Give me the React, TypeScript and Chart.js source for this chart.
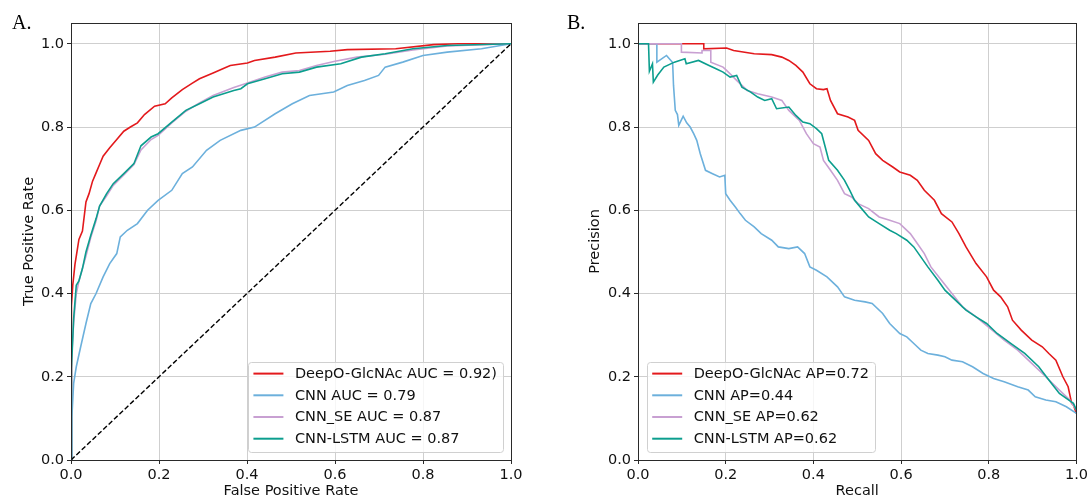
import React, { useEffect, useRef } from 'react';
import { Chart, registerables } from 'chart.js';

Chart.register(...registerables);

// ---------- text ----------
const panelTags = ['A.', 'B.'];
const rocAxisTitles = ['False Positive Rate', 'True Positive Rate'];
const prAxisTitles = ['Recall', 'Precision'];
const rocLegendLabels = ['DeepO-GlcNAc AUC = 0.92)', 'CNN AUC = 0.79', 'CNN_SE AUC = 0.87', 'CNN-LSTM AUC = 0.87'];
const prLegendLabels = ['DeepO-GlcNAc AP=0.72', 'CNN AP=0.44', 'CNN_SE AP=0.62', 'CNN-LSTM AP=0.62'];
const seriesColors = ['#e3191c', '#6cb0dc', '#c8a0d2', '#0c9e8e'];
const tickStep = 0.2;

// ---------- ROC (panel A) ----------
const rocDeepFpr = [0, 0, 0.002, 0.004, 0.006, 0.009, 0.012, 0.018, 0.026, 0.034, 0.041, 0.049, 0.057, 0.065, 0.073, 0.088, 0.104, 0.120, 0.135, 0.151, 0.167, 0.190, 0.214, 0.229, 0.253, 0.275, 0.292, 0.323, 0.345, 0.362, 0.401, 0.417, 0.464, 0.511, 0.589, 0.628, 0.738, 0.824, 0.880, 1.0];
const rocDeepTpr = [0, 0.28, 0.37, 0.42, 0.44, 0.47, 0.49, 0.53, 0.55, 0.62, 0.64, 0.67, 0.69, 0.71, 0.73, 0.75, 0.77, 0.79, 0.80, 0.81, 0.83, 0.85, 0.856, 0.87, 0.89, 0.905, 0.916, 0.93, 0.94, 0.948, 0.954, 0.96, 0.968, 0.978, 0.982, 0.986, 0.988, 0.998, 1.0, 1.0];

const rocCnnFpr = [0, 0.002, 0.006, 0.012, 0.022, 0.034, 0.045, 0.057, 0.073, 0.088, 0.104, 0.112, 0.128, 0.151, 0.174, 0.198, 0.229, 0.253, 0.276, 0.308, 0.339, 0.386, 0.417, 0.464, 0.503, 0.542, 0.597, 0.628, 0.667, 0.699, 0.714, 0.754, 0.800, 0.855, 0.933, 1.0];
const rocCnnTpr = [0, 0.104, 0.184, 0.224, 0.272, 0.328, 0.376, 0.40, 0.44, 0.472, 0.496, 0.536, 0.552, 0.568, 0.60, 0.624, 0.648, 0.688, 0.704, 0.744, 0.768, 0.792, 0.80, 0.832, 0.856, 0.876, 0.884, 0.90, 0.912, 0.924, 0.944, 0.956, 0.972, 0.98, 0.988, 1.0];

const rocSeFpr = [0, 0, 0.002, 0.006, 0.012, 0.018, 0.026, 0.034, 0.045, 0.057, 0.065, 0.081, 0.096, 0.120, 0.143, 0.159, 0.182, 0.198, 0.229, 0.261, 0.292, 0.323, 0.370, 0.401, 0.441, 0.480, 0.519, 0.558, 0.600, 0.650, 0.714, 0.777, 0.855, 1.0];
const rocSeTpr = [0, 0.16, 0.24, 0.33, 0.40, 0.43, 0.46, 0.49, 0.535, 0.575, 0.61, 0.635, 0.66, 0.685, 0.71, 0.745, 0.77, 0.78, 0.81, 0.838, 0.858, 0.876, 0.895, 0.906, 0.92, 0.932, 0.936, 0.948, 0.958, 0.968, 0.975, 0.985, 0.995, 1.0];

const rocLstmFpr = [0, 0, 0.002, 0.006, 0.012, 0.018, 0.026, 0.034, 0.045, 0.057, 0.065, 0.081, 0.096, 0.120, 0.143, 0.159, 0.182, 0.198, 0.229, 0.261, 0.292, 0.323, 0.370, 0.386, 0.401, 0.441, 0.480, 0.519, 0.558, 0.613, 0.660, 0.714, 0.777, 0.855, 1.0];
const rocLstmTpr = [0, 0.15, 0.22, 0.34, 0.42, 0.43, 0.46, 0.50, 0.54, 0.58, 0.61, 0.64, 0.664, 0.688, 0.712, 0.755, 0.776, 0.784, 0.812, 0.84, 0.856, 0.872, 0.888, 0.892, 0.904, 0.916, 0.928, 0.932, 0.944, 0.952, 0.968, 0.976, 0.988, 0.996, 1.0];

const chanceX = [0, 1];
const chanceY = [0, 1];

// ---------- Precision-Recall (panel B) ----------
const prDeepRecall = [0, 0.150, 0.150, 0.202, 0.218, 0.265, 0.305, 0.328, 0.344, 0.360, 0.376, 0.392, 0.407, 0.423, 0.431, 0.439, 0.455, 0.479, 0.494, 0.502, 0.526, 0.542, 0.558, 0.581, 0.597, 0.621, 0.637, 0.653, 0.676, 0.692, 0.716, 0.732, 0.748, 0.771, 0.795, 0.811, 0.827, 0.843, 0.854, 0.874, 0.898, 0.922, 0.937, 0.953, 0.969, 0.981, 0.989, 0.993, 1.0];
const prDeepPrecision = [1.0, 1.0, 0.988, 0.99, 0.984, 0.976, 0.974, 0.968, 0.96, 0.948, 0.932, 0.904, 0.892, 0.89, 0.892, 0.864, 0.832, 0.824, 0.816, 0.792, 0.768, 0.736, 0.72, 0.704, 0.692, 0.684, 0.672, 0.648, 0.624, 0.592, 0.572, 0.544, 0.512, 0.472, 0.44, 0.408, 0.392, 0.368, 0.336, 0.312, 0.288, 0.272, 0.256, 0.24, 0.20, 0.176, 0.136, 0.132, 0.112];

const prCnnRecall = [0, 0.043, 0.043, 0.065, 0.079, 0.081, 0.085, 0.090, 0.093, 0.103, 0.111, 0.119, 0.127, 0.134, 0.142, 0.154, 0.170, 0.186, 0.198, 0.200, 0.210, 0.222, 0.233, 0.245, 0.265, 0.281, 0.305, 0.320, 0.344, 0.364, 0.380, 0.392, 0.407, 0.431, 0.455, 0.471, 0.494, 0.518, 0.534, 0.558, 0.574, 0.597, 0.613, 0.629, 0.645, 0.661, 0.684, 0.700, 0.716, 0.740, 0.763, 0.787, 0.811, 0.835, 0.866, 0.890, 0.906, 0.930, 0.953, 0.977, 1.0];
const prCnnPrecision = [1.0, 1.0, 0.956, 0.972, 0.955, 0.90, 0.84, 0.83, 0.804, 0.826, 0.81, 0.80, 0.784, 0.768, 0.736, 0.696, 0.688, 0.68, 0.684, 0.64, 0.624, 0.608, 0.592, 0.576, 0.56, 0.544, 0.528, 0.512, 0.508, 0.512, 0.496, 0.464, 0.456, 0.44, 0.416, 0.392, 0.384, 0.38, 0.376, 0.352, 0.328, 0.304, 0.296, 0.28, 0.264, 0.256, 0.252, 0.248, 0.24, 0.236, 0.224, 0.208, 0.196, 0.188, 0.176, 0.168, 0.152, 0.144, 0.14, 0.128, 0.112];

const prSeRecall = [0, 0.099, 0.099, 0.146, 0.146, 0.166, 0.166, 0.194, 0.202, 0.225, 0.249, 0.273, 0.305, 0.328, 0.344, 0.368, 0.384, 0.400, 0.415, 0.423, 0.439, 0.455, 0.471, 0.487, 0.502, 0.526, 0.550, 0.574, 0.597, 0.621, 0.637, 0.653, 0.668, 0.692, 0.716, 0.740, 0.771, 0.803, 0.835, 0.866, 0.898, 0.930, 0.961, 0.985, 1.0];
const prSePrecision = [1.0, 1.0, 0.98, 0.978, 0.984, 0.984, 0.956, 0.944, 0.936, 0.912, 0.888, 0.88, 0.872, 0.864, 0.84, 0.816, 0.784, 0.76, 0.752, 0.72, 0.696, 0.672, 0.64, 0.632, 0.616, 0.604, 0.584, 0.576, 0.568, 0.544, 0.52, 0.496, 0.464, 0.432, 0.40, 0.368, 0.344, 0.316, 0.288, 0.264, 0.232, 0.20, 0.168, 0.144, 0.12];

const prLstmRecall = [0, 0.024, 0.026, 0.033, 0.035, 0.045, 0.059, 0.083, 0.107, 0.110, 0.138, 0.162, 0.178, 0.194, 0.210, 0.225, 0.237, 0.257, 0.273, 0.289, 0.305, 0.316, 0.344, 0.360, 0.376, 0.392, 0.407, 0.419, 0.427, 0.435, 0.455, 0.471, 0.483, 0.494, 0.510, 0.526, 0.550, 0.574, 0.589, 0.613, 0.629, 0.645, 0.661, 0.684, 0.700, 0.724, 0.748, 0.771, 0.795, 0.819, 0.850, 0.882, 0.914, 0.937, 0.961, 0.977, 0.993, 1.0];
const prLstmPrecision = [1.0, 1.0, 0.934, 0.952, 0.908, 0.925, 0.944, 0.956, 0.964, 0.952, 0.96, 0.948, 0.94, 0.932, 0.92, 0.924, 0.896, 0.884, 0.872, 0.864, 0.868, 0.844, 0.848, 0.828, 0.812, 0.808, 0.796, 0.784, 0.752, 0.72, 0.696, 0.672, 0.648, 0.624, 0.604, 0.584, 0.568, 0.552, 0.544, 0.528, 0.512, 0.488, 0.464, 0.432, 0.408, 0.384, 0.36, 0.344, 0.328, 0.304, 0.28, 0.256, 0.224, 0.192, 0.16, 0.148, 0.136, 0.12];

// ---------- helpers ----------
const FONT_FAMILY = "'DejaVu Sans', sans-serif";
const FONT_SIZE = 14.5;
const TEXT_COLOR = '#111111';
const FRAME_COLOR = '#2a2a2a';
const GRID_COLOR = '#cfcfcf';

function zip(xs: number[], ys: number[]) {
  const n = Math.min(xs.length, ys.length);
  const out: { x: number; y: number }[] = [];
  for (let i = 0; i < n; i++) out.push({ x: xs[i], y: ys[i] });
  return out;
}

const decorPlugin = {
  id: 'decor',
  afterDraw(chart: any, _args: any, opts: any) {
    const { ctx, chartArea: a } = chart;
    ctx.save();
    // frame (matplotlib spines)
    ctx.strokeStyle = FRAME_COLOR;
    ctx.lineWidth = 1;
    const l = Math.round(a.left) + 0.5;
    const t = Math.round(a.top) + 0.5;
    const r = Math.round(a.right) + 0.5;
    const b = Math.round(a.bottom) + 0.5;
    ctx.strokeRect(l, t, r - l, b - t);

    // legend
    const labels: string[] = opts.labels || [];
    ctx.font = `${FONT_SIZE}px ${FONT_FAMILY}`;
    let maxW = 0;
    labels.forEach((s) => { maxW = Math.max(maxW, ctx.measureText(s).width); });
    const boxW = 47 + maxW + 6;
    const boxH = 90;
    const boxBottom = a.bottom - 8;
    const boxTop = boxBottom - boxH;
    const boxLeft = opts.corner === 'right' ? a.right - 8 - boxW : a.left + 8.7;
    ctx.beginPath();
    const rr = 3;
    const x0 = Math.round(boxLeft) + 0.5, y0 = Math.round(boxTop) + 0.5;
    const w = Math.round(boxW), h = Math.round(boxH);
    ctx.moveTo(x0 + rr, y0);
    ctx.arcTo(x0 + w, y0, x0 + w, y0 + h, rr);
    ctx.arcTo(x0 + w, y0 + h, x0, y0 + h, rr);
    ctx.arcTo(x0, y0 + h, x0, y0, rr);
    ctx.arcTo(x0, y0, x0 + w, y0, rr);
    ctx.closePath();
    ctx.fillStyle = 'rgba(255,255,255,0.8)';
    ctx.fill();
    ctx.strokeStyle = '#d0d0d0';
    ctx.lineWidth = 1;
    ctx.stroke();
    labels.forEach((s, i) => {
      const cy = boxTop + 11.6 + i * 21.7;
      ctx.strokeStyle = seriesColors[i];
      ctx.lineWidth = 2;
      ctx.beginPath();
      ctx.moveTo(boxLeft + 5.5, cy);
      ctx.lineTo(boxLeft + 35.5, cy);
      ctx.stroke();
      ctx.fillStyle = TEXT_COLOR;
      ctx.textAlign = 'left';
      ctx.textBaseline = 'middle';
      ctx.fillText(s, boxLeft + 47, cy + 0.5);
    });

    // panel tag
    ctx.font = "20px 'Liberation Serif', 'Times New Roman', serif";
    ctx.fillStyle = '#000';
    ctx.textAlign = 'left';
    ctx.textBaseline = 'alphabetic';
    ctx.fillText(opts.tag, opts.tagX, 29);
    ctx.restore();
  },
};

type Series = { x: number[]; y: number[] };
type PanelSpec = {
  tag: string;
  tagX: number;
  titles: string[];
  legend: string[];
  corner: 'left' | 'right';
  series: Series[];
  chance: boolean;
  width: number;
  yAxisWidth: number;
  rightPad: number;
  yTitlePad: number;
};

const rocSpec: PanelSpec = {
  tag: panelTags[0],
  tagX: 12,
  titles: rocAxisTitles,
  legend: rocLegendLabels,
  corner: 'right',
  series: [
    { x: rocDeepFpr, y: rocDeepTpr },
    { x: rocCnnFpr, y: rocCnnTpr },
    { x: rocSeFpr, y: rocSeTpr },
    { x: rocLstmFpr, y: rocLstmTpr },
  ],
  chance: true,
  width: 545,
  yAxisWidth: 71,
  rightPad: 34,
  yTitlePad: 20.3,
};

const prSpec: PanelSpec = {
  tag: panelTags[1],
  tagX: 22,
  titles: prAxisTitles,
  legend: prLegendLabels,
  corner: 'left',
  series: [
    { x: prDeepRecall, y: prDeepPrecision },
    { x: prCnnRecall, y: prCnnPrecision },
    { x: prSeRecall, y: prSePrecision },
    { x: prLstmRecall, y: prLstmPrecision },
  ],
  chance: false,
  width: 546,
  yAxisWidth: 93,
  rightPad: 14,
  yTitlePad: 41.8,
};

function Panel({ spec, left }: { spec: PanelSpec; left: number }) {
  const ref = useRef<HTMLCanvasElement | null>(null);
  useEffect(() => {
    if (!ref.current) return;
    const font = { family: FONT_FAMILY, size: FONT_SIZE };
    const datasets: any[] = spec.series.map((s, i) => ({
      data: zip(s.x, s.y),
      borderColor: seriesColors[i],
      borderWidth: 1.6,
      pointRadius: 0,
      tension: 0,
      fill: false,
      order: 4 - i,
    }));
    if (spec.chance) {
      datasets.push({
        data: zip(chanceX, chanceY),
        borderColor: '#000000',
        borderWidth: 1.4,
        borderDash: [5, 2.4],
        pointRadius: 0,
        tension: 0,
        fill: false,
        order: 0,
      });
    }
    const tickCb = (v: any) => Number(v).toFixed(1);
    const chart = new Chart(ref.current, {
      type: 'line',
      data: { datasets },
      plugins: [decorPlugin],
      options: {
        animation: false,
        responsive: false,
        maintainAspectRatio: false,
        devicePixelRatio: 1,
        events: [],
        layout: { padding: { top: 23, right: spec.rightPad, bottom: 0, left: 0 } },
        plugins: {
          legend: { display: false },
          tooltip: { enabled: false },
          decor: { labels: spec.legend, corner: spec.corner, tag: spec.tag, tagX: spec.tagX },
        } as any,
        scales: {
          x: {
            type: 'linear',
            min: 0,
            max: 1,
            ticks: { stepSize: tickStep, includeBounds: false, callback: tickCb, font, color: TEXT_COLOR, padding: 3, maxRotation: 0, autoSkip: false },
            grid: { color: GRID_COLOR, lineWidth: 1, tickLength: 4, tickColor: FRAME_COLOR, drawTicks: true },
            border: { display: false },
            title: { display: true, text: spec.titles[0], font, color: TEXT_COLOR, padding: { top: 0, bottom: 0 } },
            afterFit: (s: any) => { s.height = 40; },
          },
          y: {
            type: 'linear',
            min: 0,
            max: 1.05,
            ticks: { stepSize: tickStep, includeBounds: false, callback: tickCb, font, color: TEXT_COLOR, padding: 3, autoSkip: false },
            grid: { color: GRID_COLOR, lineWidth: 1, tickLength: 4, tickColor: FRAME_COLOR, drawTicks: true },
            border: { display: false },
            title: { display: true, text: spec.titles[1], font, color: TEXT_COLOR, padding: { top: spec.yTitlePad, bottom: 0 } },
            afterFit: (s: any) => { s.width = spec.yAxisWidth; },
          },
        } as any,
      },
    } as any);
    return () => chart.destroy();
  }, [spec]);
  return (
    <canvas
      ref={ref}
      width={spec.width}
      height={500}
      style={{ position: 'absolute', left, top: 0, width: spec.width, height: 500, display: 'block' }}
    />
  );
}

export default function App() {
  return (
    <div style={{ position: 'absolute', left: 0, top: 0, width: 1091, height: 500, background: '#ffffff' }}>
      <Panel spec={rocSpec} left={0} />
      <Panel spec={prSpec} left={545} />
    </div>
  );
}
